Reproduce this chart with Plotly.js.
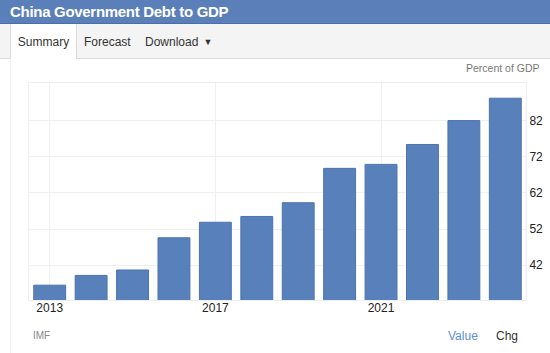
<!DOCTYPE html>
<html>
<head>
<meta charset="utf-8">
<script src="https://cdn.plot.ly/plotly-3.0.1.min.js"></script>
<style>
  html, body { margin:0; padding:0; width:550px; height:353px; overflow:hidden; background:#fff; font-family:"Liberation Sans", Arial, sans-serif; }
  #chart { position:absolute; left:0; top:0; width:550px; height:353px; }
  #hdr { position:absolute; left:0; top:0; width:550px; height:23px; background:#5b80b9; border-bottom:1px solid #4a6fa6; color:#fff; font-weight:bold; font-size:15px; line-height:23px; box-sizing:content-box; }
  #hdr span { position:absolute; left:10px; top:0; letter-spacing:-0.3px; }
  #tabs { position:absolute; left:0; top:24px; width:550px; height:34px; background:#f4f4f4; border-bottom:1px solid #dcdcdc; font-size:12px; color:#333; }
  .tab { position:absolute; top:0; height:34px; line-height:36px; }
  #t1 { left:10px; width:65px; background:#fff; border-left:1px solid #dcdcdc; border-right:1px solid #dcdcdc; height:35px; text-align:center; }
  #t2 { left:84px; }
  #t3 { left:145px; }
  #t3 .arr { font-size:9px; margin-left:5px; position:relative; top:-1px; }
  #panelLine { position:absolute; left:10px; top:59px; width:1px; height:294px; background:#f0f0f0; }
</style>
</head>
<body>
<div id="chart"></div>
<div id="hdr"><span>China Government Debt to GDP</span></div>
<div id="tabs">
  <div class="tab" id="t1">Summary</div>
  <div class="tab" id="t2">Forecast</div>
  <div class="tab" id="t3">Download<span class="arr">&#9660;</span></div>
</div>
<div id="panelLine"></div>
<script>
const years = [2013, 2014, 2015, 2016, 2017, 2018, 2019, 2020, 2021, 2022, 2023, 2024];
const debtToGdp = [36.5, 39.2, 40.7, 49.6, 53.9, 55.5, 59.3, 68.8, 69.9, 75.4, 82.0, 88.2];
const xTickYears = [2013, 2017, 2021];
const yTickValues = [42, 52, 62, 72, 82];

const trace = {
  type: 'bar',
  x: years,
  y: debtToGdp,
  marker: { color: '#5881bb', line: { color: '#4c73ad', width: 1 } },
  hoverinfo: 'none'
};

const layout = {
  width: 550, height: 353,
  margin: { l: 29, r: 24, t: 83, b: 53 },
  paper_bgcolor: 'rgba(0,0,0,0)',
  plot_bgcolor: '#fff',
  showlegend: false,
  bargap: 0.23,
  font: { family: '"Liberation Sans", Arial, sans-serif', size: 12, color: '#222' },
  xaxis: {
    range: [2012.5, 2024.5],
    tickvals: xTickYears,
    ticktext: xTickYears.map(String),
    showgrid: true, gridcolor: '#f0f0f0', gridwidth: 1,
    showline: true, linecolor: '#eeeeee', linewidth: 1, mirror: true,
    zeroline: false, ticks: '',
    ticklabelstandoff: -3,
    tickfont: { size: 12, color: '#222' }
  },
  yaxis: {
    side: 'right',
    range: [32.4, 92.4],
    tickvals: yTickValues,
    ticktext: yTickValues.map(String),
    showgrid: true, gridcolor: '#f0f0f0', gridwidth: 1,
    showline: true, linecolor: '#eeeeee', linewidth: 1, mirror: true,
    zeroline: false, ticks: '',
    tickfont: { size: 12, color: '#222' }
  },
  annotations: [
    { text: 'Percent of GDP', xref: 'paper', yref: 'paper', x: 1.032, y: 1.032, xanchor: 'right', yanchor: 'bottom', showarrow: false, font: { size: 10.5, color: '#777' } },
    { text: 'IMF', xref: 'paper', yref: 'paper', x: 0.005, y: -0.13, xanchor: 'left', yanchor: 'top', showarrow: false, font: { size: 10, color: '#888' } },
    { text: 'Value', xref: 'paper', yref: 'paper', x: 0.84, y: -0.125, xanchor: 'left', yanchor: 'top', showarrow: false, font: { size: 12, color: '#5b8fd6' } },
    { text: 'Chg', xref: 'paper', yref: 'paper', x: 0.935, y: -0.125, xanchor: 'left', yanchor: 'top', showarrow: false, font: { size: 12, color: '#333' } }
  ]
};

Plotly.newPlot('chart', [trace], layout, { displayModeBar: false, staticPlot: true });
</script>
</body>
</html>
